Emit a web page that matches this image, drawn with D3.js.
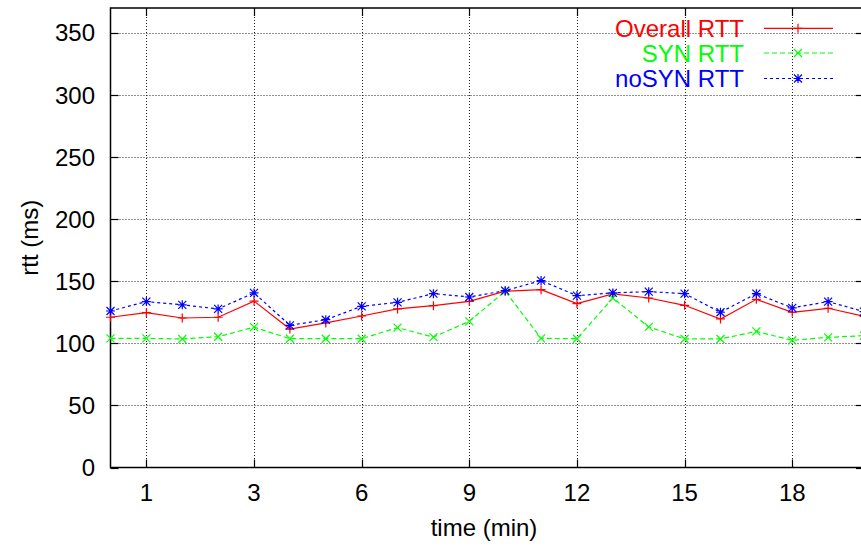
<!DOCTYPE html>
<html>
<head>
<meta charset="utf-8">
<script src="https://cdn.jsdelivr.net/npm/d3@7"></script>
<style>
  body { margin: 0; background: #fff; }
  svg { display: block; }
</style>
</head>
<body>
<div id="chart"></div>
<script>
// sample index on the x axis, one per minute slot
var idx = d3.range(22);
var overallRtt = [121, 124.7, 120.4, 121, 134, 111.5, 116.4, 122, 127.7, 130.3, 133.8, 142, 143.2, 132, 139.8, 136.5, 130.6, 119.6, 135.4, 125, 128.2, 121.7];
var synRtt     = [104, 104, 103.5, 105.3, 113, 103.7, 103.7, 103.7, 112.6, 105, 117.7, 142, 104, 103.7, 136.5, 113.2, 103.5, 103.5, 109.6, 102.4, 104.8, 106.2];
var noSynRtt   = [126, 133.6, 131, 127.7, 140.6, 114.5, 119, 129.8, 133, 140, 137.3, 142.4, 150.5, 138.4, 140.6, 141.6, 140, 125, 140, 128.5, 133.6, 125.5];

var xTickIdx = [1, 4, 7, 10, 13, 16, 19];
var xTickLabels = ["1", "3", "6", "9", "12", "15", "18"];
var yTicks = [0, 50, 100, 150, 200, 250, 300, 350];

var seriesNames = ["Overall RTT", "SYN RTT", "noSYN RTT"];
var seriesColors = ["#ff0000", "#00ff00", "#0000ff"];

function main() {
    var canvasWidth = 861;
    var canvasHeight = 549;
    var left = 110.5, right = 864, top = 8, bottom = 467.5;
    var font = "'Liberation Sans', Arial, sans-serif";

    var svg = d3.select("#chart").append("svg")
        .attr("width", canvasWidth)
        .attr("height", canvasHeight);

    svg.append("rect").attr("width", canvasWidth).attr("height", canvasHeight).attr("fill", "#fff");

    var x = d3.scaleLinear().domain([0, 21]).range([left, right]);
    var y = d3.scaleLinear().domain([0, 370]).range([bottom, top]);

    // grid lines (dotted)
    var grid = svg.append("g").attr("stroke", "#222").attr("stroke-width", 1).attr("stroke-dasharray", "1,2");
    grid.selectAll(".gx").data(xTickIdx).enter().append("line")
        .attr("x1", function(d){ return Math.round(x(d)) + 0.5; })
        .attr("x2", function(d){ return Math.round(x(d)) + 0.5; })
        .attr("y1", top).attr("y2", bottom);
    grid.selectAll(".gy").data(yTicks.filter(function(d){ return d > 0; })).enter().append("line")
        .attr("y1", function(d){ return Math.round(y(d)) + 0.5; })
        .attr("y2", function(d){ return Math.round(y(d)) + 0.5; })
        .attr("x1", left).attr("x2", right);

    // tick marks, inside, mirrored
    var ticks = svg.append("g").attr("stroke", "#000").attr("stroke-width", 1.2);
    xTickIdx.forEach(function(d){
        var xx = Math.round(x(d)) + 0.5;
        ticks.append("line").attr("x1", xx).attr("x2", xx).attr("y1", bottom).attr("y2", bottom - 8);
        ticks.append("line").attr("x1", xx).attr("x2", xx).attr("y1", top).attr("y2", top + 8);
    });
    yTicks.forEach(function(d){
        var yy = Math.round(y(d)) + 0.5;
        ticks.append("line").attr("x1", left).attr("x2", left + 8).attr("y1", yy).attr("y2", yy);
        ticks.append("line").attr("x1", right).attr("x2", right - 8).attr("y1", yy).attr("y2", yy);
    });

    // frame
    svg.append("rect")
        .attr("x", left).attr("y", top)
        .attr("width", right - left).attr("height", bottom - top)
        .attr("fill", "none").attr("stroke", "#000").attr("stroke-width", 1.5);

    // tick labels
    svg.selectAll(".ylab").data(yTicks).enter().append("text")
        .attr("x", 95)
        .attr("y", function(d){ return y(d) + 8.6; })
        .attr("text-anchor", "end")
        .attr("font-family", font).attr("font-size", "24px")
        .text(function(d){ return d; });

    svg.selectAll(".xlab").data(xTickIdx).enter().append("text")
        .attr("x", function(d){ return x(d); })
        .attr("y", 500.5)
        .attr("text-anchor", "middle")
        .attr("font-family", font).attr("font-size", "24px")
        .text(function(d, i){ return xTickLabels[i]; });

    // axis titles
    svg.append("text")
        .attr("x", 484).attr("y", 536)
        .attr("text-anchor", "middle")
        .attr("font-family", font).attr("font-size", "24px")
        .text("time (min)");
    svg.append("text")
        .attr("transform", "translate(38," + ((top + bottom) / 2) + ") rotate(-90)")
        .attr("text-anchor", "middle")
        .attr("font-family", font).attr("font-size", "24px")
        .text("rtt (ms)");

    // point shapes like gnuplot: plus, cross, star
    function plusPath(h){ return "M" + (-h) + ",0H" + h + "M0," + (-h) + "V" + h; }
    function crossPath(h){ return "M" + (-h) + "," + (-h) + "L" + h + "," + h + "M" + (-h) + "," + h + "L" + h + "," + (-h); }
    var markers = [plusPath(4.5), crossPath(4), plusPath(4.5) + crossPath(4)];
    var dashes = [null, "5,3", "3,3"];
    var allSeries = [overallRtt, synRtt, noSynRtt];

    var line = d3.line()
        .x(function(d, i){ return x(idx[i]); })
        .y(function(d){ return y(d); });

    allSeries.forEach(function(vals, s){
        svg.append("path")
            .datum(vals)
            .attr("d", line)
            .attr("fill", "none")
            .attr("stroke", seriesColors[s])
            .attr("stroke-width", 1.2)
            .attr("stroke-dasharray", dashes[s]);
        svg.selectAll(".pt" + s).data(vals).enter().append("path")
            .attr("transform", function(d, i){ return "translate(" + x(idx[i]) + "," + y(d) + ")"; })
            .attr("d", markers[s])
            .attr("fill", "none")
            .attr("stroke", seriesColors[s])
            .attr("stroke-width", 1.2);
    });

    // legend
    var legendY = [28.3, 53, 78.5];
    seriesNames.forEach(function(name, s){
        var ly = legendY[s];
        svg.append("text")
            .attr("x", 744).attr("y", ly + 8.6)
            .attr("text-anchor", "end")
            .attr("fill", seriesColors[s])
            .attr("font-family", font).attr("font-size", "24px")
            .text(name);
        svg.append("line")
            .attr("x1", 764).attr("x2", 833)
            .attr("y1", ly).attr("y2", ly)
            .attr("stroke", seriesColors[s])
            .attr("stroke-width", 1.2)
            .attr("stroke-dasharray", dashes[s]);
        svg.append("path")
            .attr("transform", "translate(798," + ly + ")")
            .attr("d", markers[s])
            .attr("fill", "none")
            .attr("stroke", seriesColors[s])
            .attr("stroke-width", 1.2);
    });
}
main();
</script>
</body>
</html>
